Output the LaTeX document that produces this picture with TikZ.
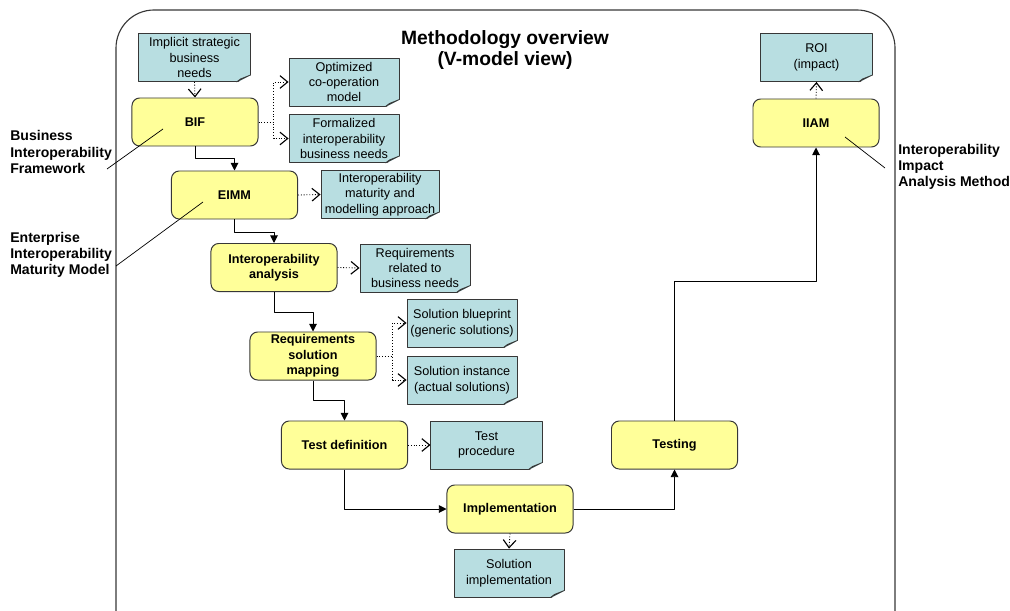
\documentclass[tikz,border=0pt]{standalone}
\usepackage{fontspec}
\setmainfont{Liberation Sans}
\usetikzlibrary{arrows.meta}
\definecolor{boxyellow}{RGB}{255,255,153}
\definecolor{noteblue}{RGB}{184,222,225}
\definecolor{notefold}{RGB}{150,188,192}
\definecolor{edgegray}{RGB}{55,55,55}
\begin{document}
\begin{tikzpicture}[x=0.025cm,y=-0.025cm,line join=round,
  box/.style={draw=edgegray,line width=0.7pt,fill=boxyellow,rounded corners=5.5pt,
    minimum width=3.15cm,minimum height=1.2cm,align=center,inner sep=1pt,
    font=\fontsize{9}{11}\selectfont\bfseries},
  note/.style={draw=edgegray,line width=0.6pt,fill=noteblue,minimum width=2.75cm,
    minimum height=1.2cm,align=center,inner sep=1pt,font=\fontsize{9}{11}\selectfont},
  side/.style={anchor=west,align=left,inner sep=0pt,font=\fontsize{10}{11.6}\selectfont\bfseries},
  flow/.style={line width=0.7pt,-{Triangle[length=5.5pt,width=5.5pt]}},
  dotflow/.style={line width=0.6pt,dash pattern=on 0.7pt off 1.3pt,
    -{Straight Barb[length=5.5pt,width=9pt,line width=0.8pt]}},
  leader/.style={line width=0.5pt}]
  \useasboundingbox (0,0) rectangle (1010,610);
  % frame
  \draw[edgegray,line width=0.8pt,rounded corners=0.95cm] (116,640) -- (116,10) -- (895,10) -- (895,640);
  \node[font=\fontsize{13.7}{15.6}\selectfont\bfseries,align=center] (title) at (505,50)
    {Methodology overview\\(V-model view)};
  % steps of the V
  \node[box] (bif) at (195,122) {BIF};
  \node[box] (eimm) at (234.5,195) {EIMM};
  \node[box] (ianal) at (274,267.5) {Interoperability\\analysis};
  \node[box] (rsm) at (313,356) {Requirements\\solution\\mapping};
  \node[box] (tdef) at (344.5,445) {Test definition};
  \node[box] (impl) at (510,509) {Implementation};
  \node[box] (test) at (674.5,445) {Testing};
  \node[box] (iiam) at (816,123) {IIAM};
  % results
  \node[note,minimum width=2.78cm] (implicit) at (194.5,57.5) {Implicit strategic\\business\\needs};
  \node[note] (optim) at (344,82) {Optimized\\co-operation\\model};
  \node[note] (formal) at (344,138.5) {Formalized\\interoperability\\business needs};
  \node[note,minimum width=2.95cm] (maturity) at (380,194.5) {Interoperability\\maturity and\\modelling approach};
  \node[note] (reqrel) at (415,268) {Requirements\\related to\\business needs};
  \node[note] (blueprint) at (462,323) {Solution blueprint\\(generic solutions)};
  \node[note] (instance) at (462,380) {Solution instance\\(actual solutions)};
  \node[note,minimum width=2.78cm] (proc) at (486.5,445) {Test\\procedure};
  \node[note] (solimpl) at (509,573) {Solution\\implementation};
  \node[note,minimum width=2.78cm] (roi) at (816.5,57.5) {ROI\\(impact)};
  \foreach \n in {implicit,optim,formal,maturity,reqrel,blueprint,instance,proc,solimpl,roi} {
    \fill[white] ([shift={(-14,1)}]\n.south east) -- ([shift={(1,1)}]\n.south east)
      -- ([shift={(1,-7)}]\n.south east) -- cycle;
    \draw[edgegray,line width=0.5pt,fill=notefold] ([shift={(-14,0)}]\n.south east)
      -- ([shift={(0,-7)}]\n.south east) -- ([shift={(-10,-3)}]\n.south east) -- cycle;
  }
  % main flow
  \draw[flow] (bif.south) -- ++(0,12) -| (eimm.north);
  \draw[flow] (eimm.south) -- ++(0,13) -| (ianal.north);
  \draw[flow] (ianal.south) -- ++(0,20) -| (rsm.north);
  \draw[flow] (rsm.south) -- ++(0,20) -| (tdef.north);
  \draw[flow] (tdef.south) |- (impl.west);
  \draw[flow] (impl.east) -| (test.south);
  \draw[flow] (test.north) -- ++(0,-139) -| (iiam.south);
  % outputs
  \draw[dotflow] (implicit.south) -- (bif.north);
  \draw[dotflow] (bif.east) -- ++(15,0) |- (optim.west);
  \draw[dotflow] (bif.east) -- ++(15,0) |- (formal.west);
  \draw[dotflow] (eimm.east) -- (maturity.west);
  \draw[dotflow] (ianal.east) -- (reqrel.west);
  \draw[dotflow] (rsm.east) -- ++(16,0) |- (blueprint.west);
  \draw[dotflow] (rsm.east) -- ++(16,0) |- (instance.west);
  \draw[dotflow] (tdef.east) -- (proc.west);
  \draw[dotflow] (impl.south) -- (solimpl.north);
  \draw[dotflow] (iiam.north) -- (roi.south);
  % side labels
  \node[side] (biflbl) at (10,152) {Business\\Interoperability\\Framework};
  \node[side] (eimmlbl) at (10,255) {Enterprise\\Interoperability\\Maturity Model};
  \node[side] (iiamlbl) at (898,167) {Interoperability\\Impact\\Analysis Method};
  \coordinate (bifa) at (107,169);
  \coordinate (bifb) at (163,129);
  \coordinate (eimma) at (116,266);
  \coordinate (eimmb) at (203,202);
  \coordinate (iiama) at (885,168);
  \coordinate (iiamb) at (845,137);
  \draw[leader] (bifa) -- (bifb);
  \draw[leader] (eimma) -- (eimmb);
  \draw[leader] (iiama) -- (iiamb);
\end{tikzpicture}
\end{document}
